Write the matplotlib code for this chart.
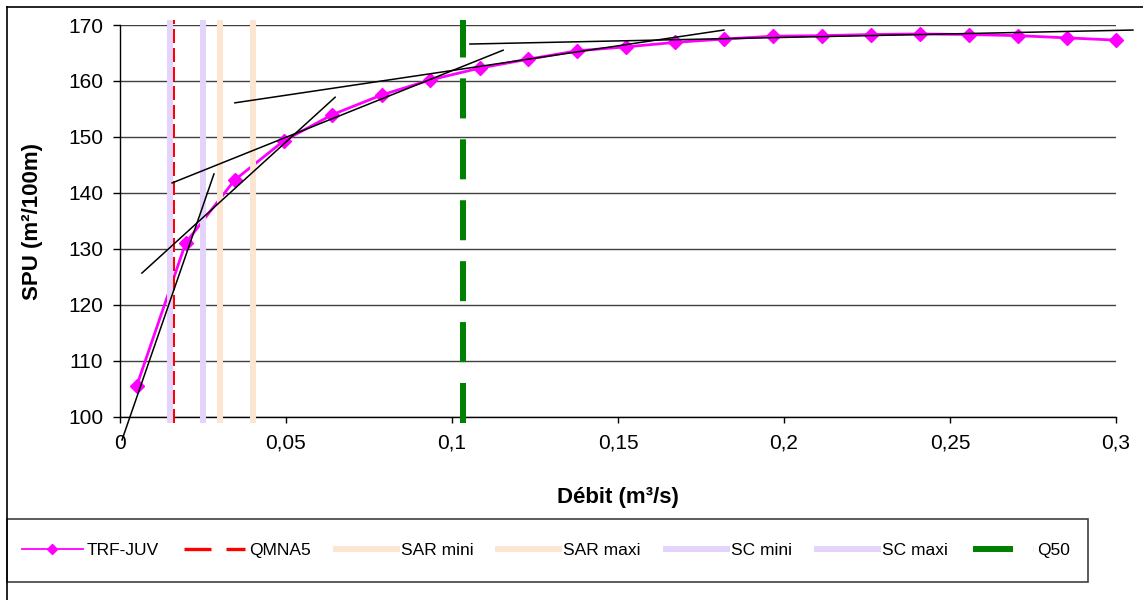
import matplotlib
matplotlib.use('Agg')
import matplotlib.pyplot as plt
from matplotlib.lines import Line2D
from matplotlib.patches import Rectangle
from matplotlib.ticker import FuncFormatter, MultipleLocator

plt.rcParams['font.family'] = ['Liberation Sans', 'DejaVu Sans']

# TRF-JUV habitat curve
flow = [0.005, 0.0198, 0.0345, 0.0493, 0.064, 0.0788, 0.0935, 0.1083, 0.123,
        0.1378, 0.1525, 0.1673, 0.182, 0.1968, 0.2115, 0.2263, 0.241, 0.2558,
        0.2705, 0.2853, 0.300]
spu = [105.5, 131.1, 142.3, 149.3, 154.0, 157.5, 160.2, 162.3, 163.9, 165.4,
       166.1, 166.9, 167.5, 168.0, 168.1, 168.3, 168.4, 168.3, 168.1, 167.7, 167.3]

# reference flows
band_names = ['SC mini', 'SC maxi', 'SAR mini', 'SAR maxi']
band_flows = [0.0151, 0.0250, 0.0301, 0.0400]
qmna5 = 0.0164
q50 = 0.1033

# hand-drawn tangents (start / end)
tan_x0 = [0.0006, 0.0066, 0.0157, 0.0346, 0.1054]
tan_y0 = [95.9, 125.7, 141.8, 156.1, 166.6]
tan_x1 = [0.0283, 0.0648, 0.1154, 0.1819, 0.3051]
tan_y1 = [143.4, 157.1, 165.5, 169.1, 169.1]

W, H = 1143, 600
fig = plt.figure(figsize=(W / 100, H / 100), dpi=100)
ax = fig.add_axes([120 / W, 1 - 417 / H, (1116 - 120) / W, (417 - 25) / H])

SC_COL = '#E4D4FC'
SAR_COL = '#FCE6D2'
band_cols = [SC_COL, SC_COL, SAR_COL, SAR_COL]
vlo, vhi = 98.95, 170.9

ax.plot(flow, spu, color='#FF00FF', lw=2, marker='D', ms=7.5, zorder=3, clip_on=False)

for fx, col in zip(band_flows, band_cols):
    ax.plot([fx, fx], [vlo, vhi], color=col, lw=4.3, solid_capstyle='butt',
            zorder=4, clip_on=False)

ax.plot([qmna5, qmna5], [vlo, vhi], color='#FF0000', lw=1.44, ls=(0, (7.0, 2.5)),
        zorder=5, clip_on=False)
ax.plot([q50, q50], [vlo, vhi], color='#008000', lw=4.3, ls=(0, (6.7, 3.5)),
        zorder=5, clip_on=False)

for x0, y0, x1, y1 in zip(tan_x0, tan_y0, tan_x1, tan_y1):
    ax.plot([x0, x1], [y0, y1], color='black', lw=1.1, zorder=6, clip_on=False)

ax.set_xlim(0, 0.3)
ax.set_ylim(100, 170)
ax.xaxis.set_major_locator(MultipleLocator(0.05))
ax.yaxis.set_major_locator(MultipleLocator(10))
ax.xaxis.set_major_formatter(FuncFormatter(lambda v, p: ('%g' % round(v, 4)).replace('.', ',')))
ax.yaxis.grid(True, color='#404040', lw=1.0)
ax.set_axisbelow(True)
for s in ('top', 'right'):
    ax.spines[s].set_visible(False)
for s in ('left', 'bottom'):
    ax.spines[s].set_color('black')
    ax.spines[s].set_linewidth(1.0)
ax.tick_params(axis='y', direction='out', length=5, width=1, pad=7, labelsize=15)
ax.tick_params(axis='x', direction='out', length=4, width=1, pad=8, labelsize=15)

ax.set_xlabel('Débit (m³/s)', fontsize=16, fontweight='bold', va='center')
ax.xaxis.set_label_coords(0.5, (417 - 498) / 392)
ax.set_ylabel('SPU (m²/100m)', fontsize=16, fontweight='bold', va='center')
ax.yaxis.set_label_coords((33 - 120) / 996, 0.5)

# chart frame and legend box
fig.add_artist(Line2D([6.5 / W, 1], [1 - 6.5 / H, 1 - 6.5 / H], color='black', lw=1.2,
                      transform=fig.transFigure))
fig.add_artist(Line2D([6.5 / W, 6.5 / W], [1 - 6.5 / H, 0], color='black', lw=1.2,
                      transform=fig.transFigure))
fig.add_artist(Rectangle((6.5 / W, 1 - 582 / H), (1088 - 6.5) / W, (582 - 519) / H,
                         fill=False, edgecolor='#404040', lw=1.2, transform=fig.transFigure))

handles = [
    Line2D([], [], color='#FF00FF', lw=1.3, marker='D', ms=5.3),
    Line2D([], [], color='#FF0000', lw=2.4, ls=(0, (8.1, 4.5))),
    Line2D([], [], color=SAR_COL, lw=4.3),
    Line2D([], [], color=SAR_COL, lw=4.3),
    Line2D([], [], color=SC_COL, lw=4.3),
    Line2D([], [], color=SC_COL, lw=4.3),
    Line2D([], [], color='#008000', lw=4.3, ls=(0, (6.7, 3.5))),
]
labels = ['TRF-JUV', 'QMNA5', 'SAR mini', 'SAR maxi', 'SC mini', 'SC maxi', 'Q50']
fig.legend(handles, labels, loc='center left', bbox_to_anchor=(22 / W, 1 - 550 / H),
           ncol=7, frameon=False, fontsize=12.5, handlelength=3.51, handletextpad=0.23,
           columnspacing=1.44, borderpad=0, borderaxespad=0)

fig.savefig('out.png', dpi=100)
